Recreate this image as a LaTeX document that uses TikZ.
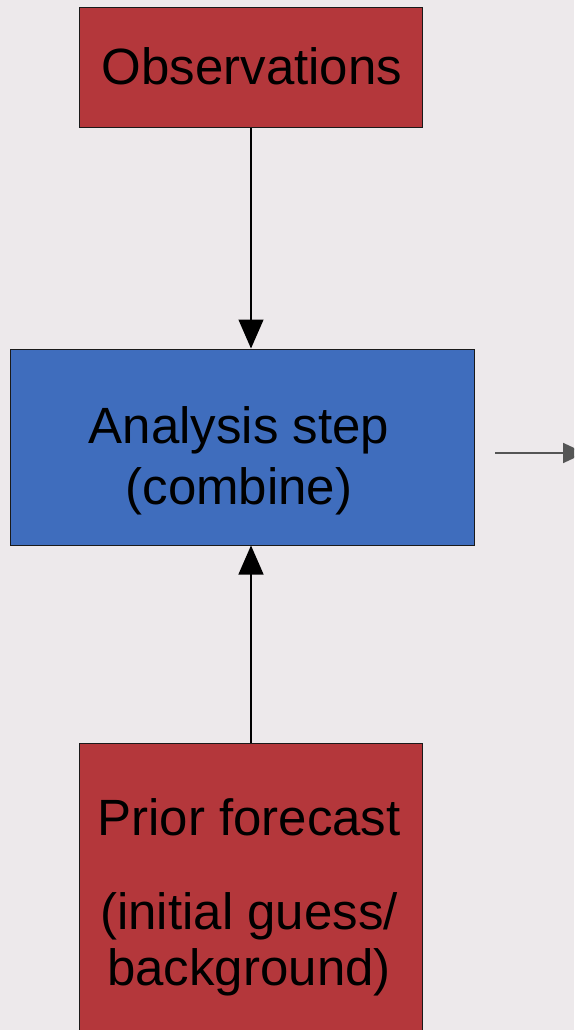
\documentclass[tikz,border=0pt]{standalone}
\usepackage{fontspec}
\setmainfont{Liberation Sans}
\usetikzlibrary{arrows.meta}
\definecolor{bgc}{HTML}{EDE9EB}
\definecolor{boxred}{HTML}{B4373B}
\definecolor{boxblue}{HTML}{3F6DBD}
\definecolor{edgec}{HTML}{1A1A1A}
\definecolor{outc}{HTML}{555555}
\tikzset{
  redbox/.style={draw=edgec, line width=1pt, fill=boxred, inner sep=0pt},
  bluebox/.style={draw=edgec, line width=1pt, fill=boxblue, inner sep=0pt},
  bigtext/.style={font=\fontsize{51}{61}\selectfont, text=black, align=center, inner sep=0pt},
  conn/.style={draw=black, line width=1.3pt, -{Triangle[length=29pt,width=25pt]}},
  outarrow/.style={draw=outc, line width=1.8pt, -{Triangle[length=22pt,width=20pt]}}
}
\begin{document}
\begin{tikzpicture}[x=1pt,y=-1pt]
\useasboundingbox (0,0) rectangle (574,1030);
\clip (0,0) rectangle (574,1030);
\fill[bgc] (0,0) rectangle (574,1030);
\node[redbox, minimum width=343pt, minimum height=120pt] (obs) at (250.5,68) {};
\node[bigtext] (obstext) at (252,66) {Observations};
\node[bluebox, minimum width=464pt, minimum height=196pt] (ana) at (242,447) {};
\node[bigtext] (anatext) at (239,461) {Analysis step\\(combine)};
\node[redbox, minimum width=343pt, minimum height=320pt] (prior) at (250.5,903) {};
\node[bigtext, font=\fontsize{51}{56}\selectfont] (priortext) at (249,897) {Prior forecast\\[38pt](initial guess/\\background)};
\draw[conn] (obs.south -| 251,0) -- (ana.north -| 251,0);
\draw[conn] (prior.north -| 251,0) -- (ana.south -| 251,0);
\coordinate (rs) at (495,453);
\coordinate (re) at (585,453);
\draw[outarrow] (rs) -- (re);
\end{tikzpicture}
\end{document}
